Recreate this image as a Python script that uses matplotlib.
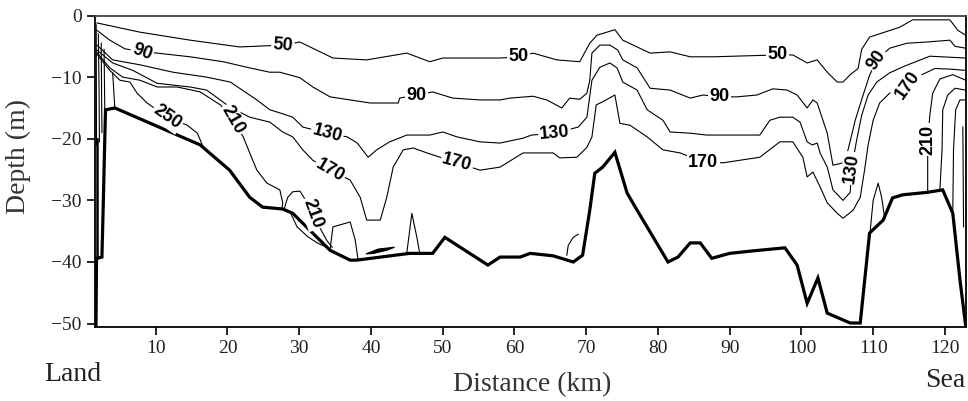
import numpy as np
import matplotlib.pyplot as plt

plt.rcParams['font.family'] = 'Liberation Serif'

# Seabed profile along the transect (distance in km, depth in m)
bottom_km = [1.67, 1.75, 2.5, 2.7, 2.9, 3.0, 4.3, 16.2, 20.3, 23.1, 24.9, 27.7, 29.1,
             34.3, 37.1, 38.0, 45.4, 48.6, 50.3, 56.3, 58.0, 60.8, 62.2, 65.4, 68.2,
             69.5, 70.5, 71.2, 72.3, 74.0, 75.7, 77.1, 81.4, 82.8, 84.5, 85.9, 87.5,
             90.0, 93.2, 97.7, 99.4, 100.8, 102.3, 103.6, 106.8, 108.2, 109.5, 111.4,
             112.7, 114.1, 117.5, 119.7, 121.1, 122.1, 122.9]
bottom_m = [-50.6, -39.4, -39.2, -30.0, -20.0, -15.3, -15.0, -21.0, -25.1, -29.5, -31.1,
            -31.4, -32.1, -38.1, -39.7, -39.7, -38.6, -38.6, -36.0, -40.5, -39.2, -39.2,
            -38.6, -39.0, -40.0, -38.9, -31.6, -25.6, -24.6, -22.2, -28.8, -31.6, -40.0,
            -39.2, -36.9, -36.9, -39.4, -38.6, -38.2, -37.7, -40.5, -46.7, -42.6, -48.3,
            -49.9, -49.9, -35.3, -33.2, -29.6, -29.1, -28.7, -28.3, -32.1, -42.9, -50.4]

# Isolines, (km, m) pairs
iso_50 = [(1.8, -1.2), (7.8, -2.7), (14.8, -4.0), (21.7, -5.1), (27.7, -4.8), (30.1, -4.3),
          (34.7, -6.9), (39.4, -7.2), (45.0, -6.1), (48.2, -7.5), (50.0, -6.9), (58.0, -6.9),
          (60.5, -6.7), (62.6, -6.1), (65.9, -7.2), (69.1, -7.5), (70.5, -4.5), (71.5, -3.2),
          (74.0, -2.3), (75.1, -4.0), (78.9, -6.1), (81.7, -5.9), (84.5, -6.7), (87.7, -6.7),
          (96.6, -6.4), (98.8, -6.4), (100.8, -7.7), (102.2, -7.2), (103.6, -9.2),
          (105.0, -10.8), (105.8, -10.8), (106.8, -9.6), (107.9, -8.6), (108.4, -5.5),
          (109.5, -3.5), (113.7, -1.9), (115.5, -0.7), (120.7, -0.7), (121.8, -2.4),
          (122.9, -3.2)]
iso_90 = [(1.8, -2.4), (3.6, -4.0), (5.7, -5.4), (8.1, -5.9), (10.2, -6.1), (14.8, -6.7),
          (19.4, -7.5), (23.1, -8.5), (25.9, -9.2), (27.3, -9.2), (30.1, -10.1), (31.9, -11.6),
          (34.3, -13.2), (39.9, -14.2), (43.8, -14.2), (44.0, -13.4), (46.4, -12.9),
          (48.6, -12.4), (51.4, -13.4), (55.2, -13.7), (58.0, -13.7), (59.4, -13.4),
          (62.6, -13.1), (64.5, -13.7), (66.6, -15.0), (67.7, -13.4), (69.1, -13.6),
          (70.1, -12.6), (70.5, -10.5), (70.8, -6.1), (71.9, -4.8), (73.3, -4.8), (74.4, -5.6),
          (75.1, -7.2), (77.1, -8.5), (78.9, -11.8), (81.7, -12.1), (84.5, -13.4),
          (86.3, -12.9), (88.6, -13.2), (91.0, -13.2), (93.8, -12.9), (96.0, -11.9),
          (98.0, -12.1), (99.4, -12.9), (100.8, -15.0), (101.6, -13.7), (102.2, -14.2),
          (103.6, -19.1), (104.4, -24.3), (105.8, -23.9), (106.5, -21.8), (107.5, -17.0),
          (108.6, -12.9), (109.5, -9.7), (110.5, -7.2), (112.3, -5.3), (114.7, -4.5),
          (117.5, -4.3), (120.7, -4.0), (121.4, -5.0), (122.9, -5.3)]
iso_130 = [(1.8, -4.8), (4.0, -7.2), (7.8, -8.0), (12.4, -9.2), (17.1, -10.0), (20.4, -10.8),
           (24.1, -13.7), (25.9, -15.3), (27.3, -15.8), (29.1, -16.5), (30.5, -18.1),
           (33.9, -19.1), (36.7, -19.7), (38.1, -20.7), (39.6, -23.0), (40.8, -21.8),
           (42.6, -20.5), (45.0, -19.4), (48.2, -19.4), (50.0, -18.9), (52.0, -19.7),
           (55.2, -20.5), (58.0, -20.7), (61.2, -19.9), (62.4, -19.4), (65.6, -19.1),
           (68.9, -18.1), (70.1, -16.5), (70.8, -10.5), (71.9, -8.4), (73.3, -7.7),
           (74.3, -8.5), (75.1, -10.8), (77.1, -12.1), (78.5, -15.3), (80.7, -17.0),
           (81.7, -18.9), (84.5, -19.1), (86.8, -19.4), (94.2, -19.4), (95.6, -17.0),
           (97.0, -16.5), (98.8, -16.5), (99.8, -17.3), (100.8, -20.5), (101.5, -21.0),
           (102.2, -20.7), (102.6, -22.3), (103.6, -24.6), (104.4, -28.3), (105.8, -30.0),
           (106.8, -28.7), (107.0, -24.8), (107.7, -20.2), (108.4, -16.2), (109.3, -12.9),
           (110.5, -10.8), (112.3, -9.3), (114.4, -8.2), (117.9, -6.6), (122.9, -6.9)]
iso_170 = [(1.8, -5.6), (4.0, -7.7), (6.8, -8.9), (10.2, -11.0), (14.8, -11.6), (17.1, -12.1),
           (20.4, -14.9), (23.1, -16.5), (25.9, -17.3), (27.7, -18.9), (29.1, -19.7),
           (30.5, -21.8), (31.9, -23.5), (34.3, -25.1), (37.1, -26.7), (38.5, -29.5),
           (39.4, -33.2), (41.3, -33.2), (42.2, -29.5), (43.1, -24.6), (44.5, -21.8),
           (45.9, -21.5), (47.8, -22.3), (52.0, -23.9), (55.2, -25.1), (58.0, -24.6),
           (61.2, -22.3), (65.4, -22.3), (66.3, -23.1), (68.7, -23.0), (70.1, -21.4),
           (70.8, -19.7), (71.4, -14.5), (72.3, -14.0), (74.0, -12.9), (74.7, -17.5),
           (76.1, -17.8), (78.5, -19.7), (80.7, -21.8), (83.1, -22.3), (86.3, -23.8),
           (89.1, -23.9), (94.2, -23.0), (97.0, -20.5), (98.8, -20.5), (100.2, -23.0),
           (100.8, -26.2), (101.6, -25.4), (102.6, -27.8), (103.6, -30.4), (105.0, -32.1),
           (105.8, -32.9), (107.2, -31.6), (108.2, -29.5), (108.8, -25.1), (109.3, -21.0),
           (110.0, -17.0), (110.9, -14.2), (112.3, -12.6), (114.8, -11.3), (116.8, -9.6),
           (118.6, -8.6), (120.7, -8.7), (122.9, -8.9)]
iso_210 = [(1.8, -6.0), (3.6, -8.5), (5.4, -10.0), (7.8, -10.5), (10.2, -11.6), (13.0, -11.6),
           (16.2, -12.4), (19.0, -14.5), (20.8, -16.9), (22.2, -19.7), (23.1, -22.3),
           (24.1, -25.1), (25.5, -27.2), (27.3, -28.3), (27.7, -30.4), (27.6, -31.3)]
iso_210_b = [(27.9, -31.4), (28.4, -29.5), (29.1, -28.6), (30.1, -28.5), (30.8, -29.8),
             (31.9, -32.1), (32.9, -34.5), (33.9, -36.6), (34.6, -37.6)]
iso_210_c = [(117.6, -28.6), (117.6, -24.6), (117.6, -20.2), (117.9, -16.2), (118.3, -12.6),
             (119.3, -10.3), (121.1, -9.6), (122.9, -10.5)]
iso_250 = [(1.8, -6.3), (3.6, -8.9), (5.0, -10.5), (6.4, -10.8), (7.4, -12.6), (8.8, -14.2),
           (11.6, -16.5), (14.4, -17.8), (15.8, -19.1), (16.5, -21.0), (16.6, -21.3)]
iso_250_b = [(119.3, -28.3), (119.6, -21.8), (119.7, -15.3), (120.4, -12.9), (121.4, -11.8),
             (122.9, -12.1)]
iso_250_c = [(121.1, -31.8), (121.2, -21.8), (121.5, -15.3), (122.1, -13.7), (122.9, -13.7)]

# small pockets sitting on the seabed
pocket_a = [(28.7, -31.8), (29.7, -34.3), (31.2, -35.9), (32.5, -36.9), (34.0, -37.7)]
pocket_b = [(34.3, -38.0), (34.7, -34.3), (37.1, -33.5), (37.8, -36.4), (38.2, -39.6)]
pocket_c = [(45.0, -38.5), (45.7, -32.1), (46.4, -36.0), (46.8, -38.6)]
pocket_e = [(67.3, -38.9), (67.5, -37.3), (68.2, -36.0), (68.9, -35.5)]
pocket_f = [(109.6, -34.8), (110.0, -30.0), (110.7, -27.2), (111.2, -29.6), (111.6, -32.9)]
pocket_g = [(122.5, -18.1), (122.6, -34.3)]

# dark wedge of crowded lines near 40 km
wedge_km = [39.3, 41.0, 43.3, 42.2, 40.4]
wedge_m = [-38.7, -37.9, -37.6, -38.1, -38.6]

# lines crowding against the landward wall
wall_lines = [
    [(1.7, -1.5), (1.75, -21.0)],
    [(2.0, -3.0), (2.1, -12.0), (2.15, -20.5)],
    [(2.4, -4.5), (2.5, -19.0)],
    [(2.8, -5.5), (2.9, -15.5)],
    [(4.0, -9.3), (4.3, -15.0)],
]
wall_thick = [(1.85, -20.0), (1.85, -39.4)]

label_text = ['50', '50', '50', '90', '90', '90', '90', '130', '130', '130',
              '170', '170', '170', '170', '210', '210', '210', '250']
label_km = [27.7, 60.5, 96.6, 8.1, 46.4, 88.6, 110.5, 33.9, 65.6, 107.0,
            34.3, 52.0, 86.3, 114.8, 20.8, 31.9, 117.6, 11.6]
label_m = [-4.8, -6.7, -6.4, -5.9, -12.9, -13.2, -7.2, -19.1, -19.1, -24.8,
           -25.1, -23.9, -23.8, -11.3, -16.9, -32.1, -20.2, -16.5]
label_angle = [-5, 0, 0, -20, 0, 0, 55, -15, 5, 82,
               -30, -15, 0, 55, -60, -70, 90, -35]


fig = plt.figure(figsize=(9.68, 4.01), dpi=100)
ax = fig.add_axes([0.0981, 0.1853, 0.8999, 0.776])

isolines = [iso_50, iso_90, iso_130, iso_170, iso_210, iso_210_b, iso_210_c,
            iso_250, iso_250_b, iso_250_c, pocket_a, pocket_b, pocket_c,
            pocket_e, pocket_f, pocket_g] + wall_lines
for line in isolines:
    pts = np.array(line)
    ax.plot(pts[:, 0], pts[:, 1], color='black', lw=0.8, zorder=2)

pts = np.array(wall_thick)
ax.plot(pts[:, 0], pts[:, 1], color='black', lw=1.8, zorder=2)
ax.fill(wedge_km, wedge_m, color='black', lw=0.8, zorder=2)

ax.plot(bottom_km, bottom_m, color='black', lw=2.3, zorder=3, solid_joinstyle='miter')

for txt, x, y, ang in zip(label_text, label_km, label_m, label_angle):
    ax.text(x, y, txt, rotation=ang, rotation_mode='anchor', ha='center', va='center',
            family='Liberation Sans', fontweight='bold', fontsize=13, zorder=4,
            bbox=dict(boxstyle='square,pad=0.08', fc='white', ec='none'))

ax.set_xlim(1.53, 122.95)
ax.set_ylim(-50.5, 0)
ax.set_xticks(np.arange(10, 121, 10))
ax.set_yticks(np.arange(-50, 1, 10))
ax.tick_params(direction='out', length=6, width=1.2, labelsize=14, colors='black',
               labelcolor='#222222')
for side in ['left', 'bottom', 'top', 'right']:
    ax.spines[side].set_linewidth(1.3)
ax.spines['top'].set_color('#444444')

fig.text(0.019, 0.61, 'Depth (m)', rotation=90, ha='center', va='center',
         fontsize=20, color='#333333')
fig.text(0.55, 0.04, 'Distance (km)', ha='center', va='center', fontsize=20, color='#333333')
fig.text(0.046, 0.065, 'Land', ha='left', va='center', fontsize=20, color='#222222')
fig.text(0.997, 0.05, 'Sea', ha='right', va='center', fontsize=20, color='#222222')

fig.savefig('out.png', dpi=100)
